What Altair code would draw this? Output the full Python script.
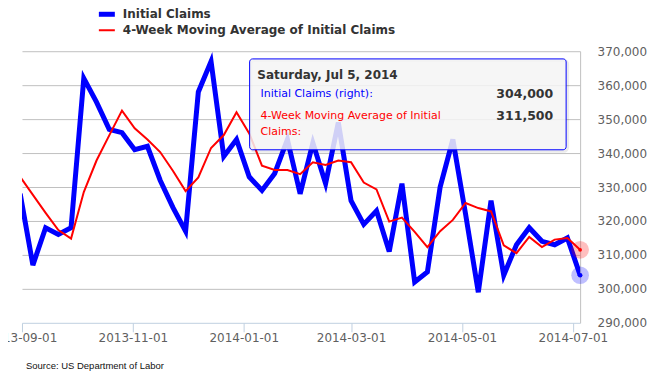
import altair as alt
import pandas as pd
from datetime import date, timedelta

# ---- data ----
first_week_ending = date(2013, 8, 31)   # weekly, week ending Saturday
initial_claims_k = [328, 307, 318, 316, 318, 362, 355, 347, 346, 341, 342, 332, 324, 317,
                    358, 367, 339, 344, 333, 329, 334, 344, 328, 343, 331, 349, 326, 319,
                    323, 311, 331, 302, 305, 330, 344, 322, 299, 326, 304, 313, 318, 314,
                    313, 315, 304]
moving_avg_k = [333.0, 327.7, 322.4, 317.3, 314.8, 328.5, 337.8, 345.2, 352.5, 347.3, 344.0,
                340.3, 334.8, 328.8, 332.8, 341.5, 345.3, 352.0, 345.8, 336.3, 335.0, 335.0,
                333.8, 337.3, 336.5, 337.8, 337.3, 331.3, 329.3, 319.8, 321.0, 316.8, 312.3,
                317.0, 320.3, 325.3, 323.8, 322.8, 312.8, 310.5, 315.3, 312.3, 314.5, 315.0,
                311.5]
series_names = ["Initial Claims", "4-Week Moving Average of Initial Claims"]
series_colors = ["#0000FF", "#FF0000"]
x_tick_dates = [(2013, 9, 1), (2013, 11, 1), (2014, 1, 1), (2014, 3, 1), (2014, 5, 1), (2014, 7, 1)]
x_domain = [(2013, 9, 1), (2014, 7, 5)]
y_ticks = [290000, 300000, 310000, 320000, 330000, 340000, 350000, 360000, 370000]
source_text = "Source: US Department of Labor"

weeks = [first_week_ending + timedelta(days=7 * i) for i in range(len(initial_claims_k))]
df = pd.DataFrame({
    "date": [d.isoformat() for d in weeks],
    "claims": [v * 1000 for v in initial_claims_k],
    "ma": [round(v * 1000) for v in moving_avg_k],
})
last = df.iloc[[-1]].reset_index(drop=True)

def dt(t):
    return alt.DateTime(year=t[0], month=t[1], date=t[2], utc=True)

FONT = "DejaVu Sans"
W, H = 559, 272

x_enc = alt.X("date:T",
              scale=alt.Scale(type="utc", domain=[dt(t) for t in x_domain]),
              axis=alt.Axis(values=[dt(t) for t in x_tick_dates],
                            labelExpr="utcFormat(datum.value, '%Y-%m-%d')",
                            title=None, grid=False, labelFlush=False,
                            labelOverlap=False, domainColor="#C0D0E0", tickColor="#C0D0E0",
                            tickSize=9, labelPadding=1, labelFont=FONT, labelFontSize=12,
                            labelColor="#606060"))

y_scale = alt.Scale(domain=[290000, 370000], nice=False, zero=False)
y_axis = alt.Axis(orient="right", values=y_ticks, format=",d", title=None, grid=True,
                  gridColor={"condition": {"test": "datum.value === 290000", "value": "transparent"},
                             "value": "#C0C0C0"},
                  domainColor="#C0C0C0", ticks=False, tickSize=0, labelPadding=17,
                  labelFont=FONT, labelFontSize=12, labelColor="#606060")

color_scale = alt.Scale(domain=series_names, range=series_colors)
legend = alt.Legend(orient="none", legendX=79, legendY=-43, direction="vertical", title=None,
                    symbolType="stroke", symbolSize=256,
                    symbolStrokeWidth=alt.ExprRef(expr="datum.value == 'Initial Claims' ? 5 : 2"),
                    labelFont=FONT, labelFontSize=12, labelFontWeight="bold",
                    labelColor="#333333", labelLimit=500, rowPadding=-5, padding=0, labelOffset=10)

base = alt.Chart(df)

claims_line = base.mark_line(strokeWidth=5, clip=True, strokeJoin="miter").transform_calculate(
    series=f"'{series_names[0]}'"
).encode(
    x=x_enc, y=alt.Y("claims:Q", scale=y_scale, axis=y_axis),
    color=alt.Color("series:N", scale=color_scale, legend=legend))
ma_line = base.mark_line(strokeWidth=2, clip=True, strokeJoin="miter").transform_calculate(
    series=f"'{series_names[1]}'"
).encode(
    x=x_enc, y=alt.Y("ma:Q", scale=y_scale, axis=y_axis),
    color=alt.Color("series:N", scale=color_scale, legend=legend))

lb = alt.Chart(last)
halo_c = lb.mark_circle(size=314, opacity=0.25, color=series_colors[0]).encode(
    x=x_enc, y=alt.Y("claims:Q", scale=y_scale, axis=y_axis))
dot_c = lb.mark_circle(size=22, opacity=1, color=series_colors[0]).encode(
    x=x_enc, y=alt.Y("claims:Q", scale=y_scale, axis=y_axis))
halo_m = lb.mark_circle(size=314, opacity=0.25, color=series_colors[1]).encode(
    x=x_enc, y=alt.Y("ma:Q", scale=y_scale, axis=y_axis))
dot_m = lb.mark_circle(size=14, opacity=1, color=series_colors[1]).encode(
    x=x_enc, y=alt.Y("ma:Q", scale=y_scale, axis=y_axis))

# ---- hover tooltip box (static, as in the reference) ----
tip_df = pd.DataFrame({"k": [0]})
tb = alt.Chart(tip_df)
shadow = tb.mark_rect(fill=None, stroke="#000000", strokeOpacity=0.08, strokeWidth=3,
                      cornerRadius=4).encode(
    x=alt.value(229.5), x2=alt.value(546.5), y=alt.value(9.2), y2=alt.value(100.2))
box = tb.mark_rect(fill="#F5F5F5", fillOpacity=0.85, stroke="#0000FF", strokeWidth=1,
                   cornerRadius=3).encode(
    x=alt.value(228), x2=alt.value(545), y=alt.value(7.7), y2=alt.value(98.7))

d_last = weeks[-1]
header = f"{d_last:%A}, {d_last:%b} {d_last.day}, {d_last.year}"
val_c = f"{int(last.loc[0, 'claims']):,}"
val_m = f"{int(last.loc[0, 'ma']):,}"

def txt(s, x, y, color, weight="normal", align="left", size=11):
    return alt.Chart(pd.DataFrame({"t": [s]})).mark_text(
        align=align, baseline="middle", font=FONT, fontSize=size, fontWeight=weight,
        color=color).encode(x=alt.value(x), y=alt.value(y), text="t:N")

tips = [
    txt(header, 235.7, 23.7, "#333333", "bold", size=12),
    txt("Initial Claims (right):", 239, 43, "#0000FF"),
    txt(val_c, 532, 43, "#333333", "bold", "right", 12.5),
    txt("4-Week Moving Average of Initial", 239, 64.4, "#FF0000"),
    txt("Claims:", 239, 81, "#FF0000"),
    txt(val_m, 532, 64.4, "#333333", "bold", "right", 12.5),
]

source = alt.Chart(pd.DataFrame({"t": [source_text]})).mark_text(
    align="left", baseline="middle", font="Liberation Sans", fontSize=9.5, color="#111111"
).encode(x=alt.value(4), y=alt.value(315.7), text="t:N")

chart = alt.layer(
    claims_line, ma_line, halo_c, dot_c, halo_m, dot_m, shadow, box, *tips, source
).properties(
    width=W, height=H,
    autosize=alt.AutoSizeParams(type="none"),
    padding={"left": 14, "top": 43, "right": 77, "bottom": 55},
).configure_view(stroke=None)

chart.save("out.html", embed_options={"renderer": "svg", "actions": False})
